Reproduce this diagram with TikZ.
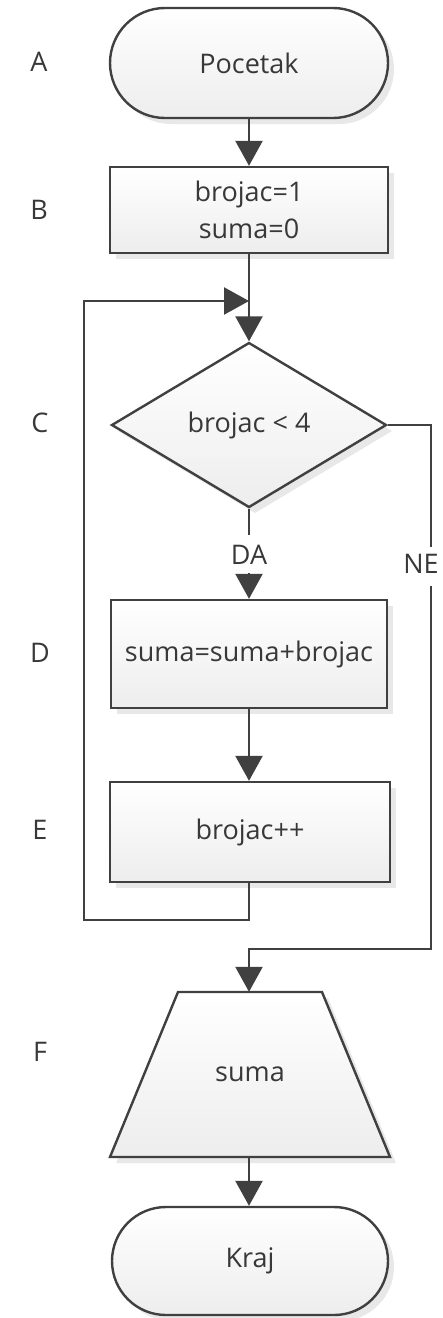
\documentclass[tikz,border=0pt]{standalone}
\usepackage{fontspec}
\setmainfont{Open Sans}
\usetikzlibrary{arrows.meta,shapes.geometric,shadows}
\definecolor{ln}{HTML}{404040}
\definecolor{tx}{HTML}{383838}
\tikzset{
  look/.style={draw=ln, line width=2.4pt, top color=white, bottom color=black!7,
    drop shadow={shadow xshift=6pt, shadow yshift=-6pt, fill=black!9, opacity=1}},
  base/.style={look, text=tx, font=\fontsize{27}{37}\selectfont, inner sep=0pt, align=center},
  term/.style={base, rectangle, rounded corners=55pt, minimum width=278pt, minimum height=110pt},
  proc/.style={base, rectangle},
  decis/.style={base, diamond, minimum width=275pt, minimum height=165pt},
  iobox/.style={text=tx, font=\fontsize{27}{37}\selectfont, inner sep=0pt, minimum width=280pt, minimum height=165pt},
  lbl/.style={text=tx, font=\fontsize{27}{37}\selectfont, inner sep=0pt},
  conn/.style={draw=ln, line width=2.4pt},
  arr/.style={conn, -{Triangle[length=25pt,width=27pt]}},
}
\begin{document}
\begin{tikzpicture}[x=1pt,y=-1pt]
\useasboundingbox (0,0) rectangle (443,1318);
% side letters
\node[lbl] (la) at (39,62) {A};
\node[lbl] (lb) at (39,210) {B};
\node[lbl] (lc) at (40,423) {C};
\node[lbl] (ld) at (40,653) {D};
\node[lbl] (le) at (40,830) {E};
\node[lbl] (lf) at (40,1052) {F};
% shapes
\node[term] (start) at (249,63) {Pocetak};
\node[proc, minimum width=278pt, minimum height=86pt] (init) at (249,210) {brojac=1\\suma=0};
\node[decis] (cond) at (249,425) {brojac {<} 4};
\node[proc, minimum width=276pt, minimum height=108pt] (sum) at (249,654) {suma=suma+brojac};
\node[proc, minimum width=280pt, minimum height=100pt] (inc) at (250,832) {brojac++};
% output trapezium (narrow top, wide bottom)
\coordinate (outc) at (250,1074.5);
\path[look] ([shift={(-140pt,-82.5pt)}]outc) -- ([shift={(140pt,-82.5pt)}]outc)
  -- ([shift={(72pt,82.5pt)}]outc) -- ([shift={(-72pt,82.5pt)}]outc) -- cycle;
\node[iobox] (out) at (outc) {suma};
\node[term, minimum width=276pt, minimum height=108pt, rounded corners=54pt] (end) at (250,1261) {Kraj};
% labels on branches
\node[lbl, text height=20pt, text depth=0pt, inner ysep=9pt] (da) at (249,554) {DA};
\node[lbl] (ne) at (421,564) {NE};
% coordinates
\coordinate (loopin) at (249,301);
\coordinate (lbot) at (84,920);
\coordinate (neTop) at (431,547);
\coordinate (neBot) at (431,586);
\coordinate (fj) at (249,949);
% connectors
\draw[arr] (start.south -| init.north) -- (init.north);
\draw[arr] (init.south) -- (cond.north);
\draw[conn] (cond.south) -- (da.north);
\draw[arr] (da.south) -- (sum.north);
\draw[arr] (sum.south) -- (sum.south |- inc.north);
\draw[arr] (inc.south -| sum.south) |- (lbot) |- (loopin);
\draw[conn] (cond.east) -| (neTop);
\draw[arr] (neBot) |- (fj) -- (fj |- out.north);
\draw[arr] (out.south -| fj) -- (fj |- end.north);
\end{tikzpicture}
\end{document}
